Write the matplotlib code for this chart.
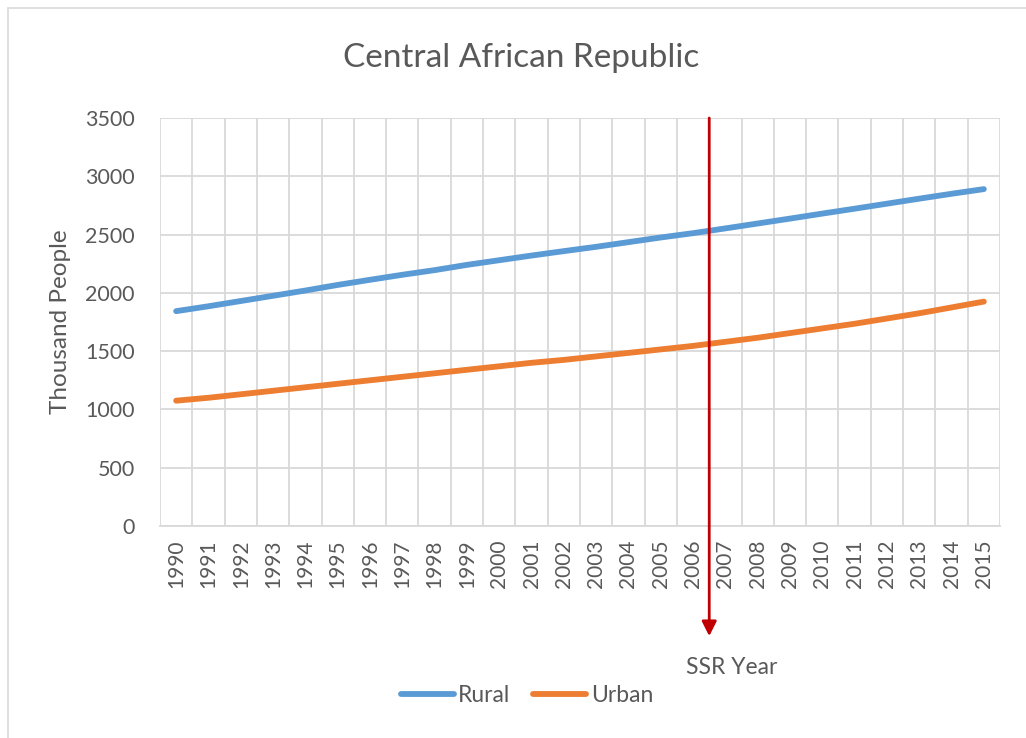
import matplotlib
matplotlib.use("Agg")
import matplotlib.pyplot as plt
from matplotlib.patches import Rectangle

years = list(range(1990, 2016))
rural = [1843, 1885, 1930, 1975, 2020, 2068, 2112, 2155, 2195, 2240, 2280, 2320,
         2358, 2395, 2435, 2475, 2512, 2553, 2595, 2637, 2680, 2722, 2765, 2808,
         2850, 2890]
urban = [1075, 1100, 1130, 1160, 1190, 1220, 1250, 1280, 1310, 1340, 1370, 1400,
         1425, 1455, 1485, 1515, 1545, 1580, 1615, 1655, 1695, 1735, 1780, 1825,
         1875, 1925]
yticks = [0, 500, 1000, 1500, 2000, 2500, 3000, 3500]
ssr_pos = 16.5  # between 2006 and 2007

plt.rcParams['font.family'] = ['Lato', 'DejaVu Sans']
txt = '#595959'
grid = '#d9d9d9'

W, H = 1026, 738
fig = plt.figure(figsize=(W / 100, H / 100), dpi=100)
fig.patches.append(Rectangle((8 / W, -0.1), 1.2, 1 - 8 / H + 0.1, transform=fig.transFigure,
                             fill=False, edgecolor='#d9d9d9', linewidth=1.2))

ax = fig.add_axes([160 / W, 1 - 526 / H, (1000 - 160) / W, (526 - 118) / H])
x = list(range(len(years)))
ax.plot(x, rural, color='#5b9bd5', linewidth=4.2, solid_capstyle='round', label='Rural', zorder=3)
ax.plot(x, urban, color='#ed7d31', linewidth=4.2, solid_capstyle='round', label='Urban', zorder=3)

ax.set_xlim(-0.5, len(years) - 0.5)
ax.set_ylim(0, 3500)
ax.set_yticks(yticks)
ax.set_yticklabels([str(v) for v in yticks], fontsize=15.5, color=txt)
ax.set_xticks(x)
ax.set_xticklabels([str(y) for y in years], rotation=90, fontsize=15, color=txt)
ax.set_xticks([i - 0.5 for i in range(len(years) + 1)], minor=True)
ax.tick_params(axis='x', which='major', length=0, pad=10)
ax.tick_params(axis='x', which='minor', length=0)
ax.tick_params(axis='y', length=0, pad=18)
ax.grid(True, which='minor', axis='x', color=grid, linewidth=1.3)
ax.grid(True, which='major', axis='y', color=grid, linewidth=1.3)
ax.grid(False, which='major', axis='x')
for s in ['top', 'right', 'left']:
    ax.spines[s].set_visible(False)
ax.spines['bottom'].set_color(grid)
ax.spines['bottom'].set_linewidth(1.3)
ax.set_axisbelow(True)

ax.set_ylabel('Thousand People', fontsize=17.5, color=txt, labelpad=10)
fig.text(521 / W, 1 - 58 / H, 'Central African Republic', ha='center', va='center',
         fontsize=24, color=txt)

# SSR arrow
ax.annotate('', xy=(ssr_pos, -0.27), xycoords=('data', 'axes fraction'),
            xytext=(ssr_pos, 1.0), textcoords=('data', 'axes fraction'),
            arrowprops=dict(arrowstyle='-|>', color='#c00000', lw=2, mutation_scale=22,
                            shrinkA=0, shrinkB=0), annotation_clip=False)
fig.text(732 / W, 1 - 668 / H, 'SSR Year', ha='center', va='center', fontsize=16.5, color=txt)

leg = fig.legend(loc='center', bbox_to_anchor=(527 / W, 1 - 696 / H), ncol=2, frameon=False,
                 fontsize=16.5, handlelength=2.3, handletextpad=0.2, columnspacing=1.0)
for t in leg.get_texts():
    t.set_color(txt)

fig.savefig('out.png', dpi=100)
